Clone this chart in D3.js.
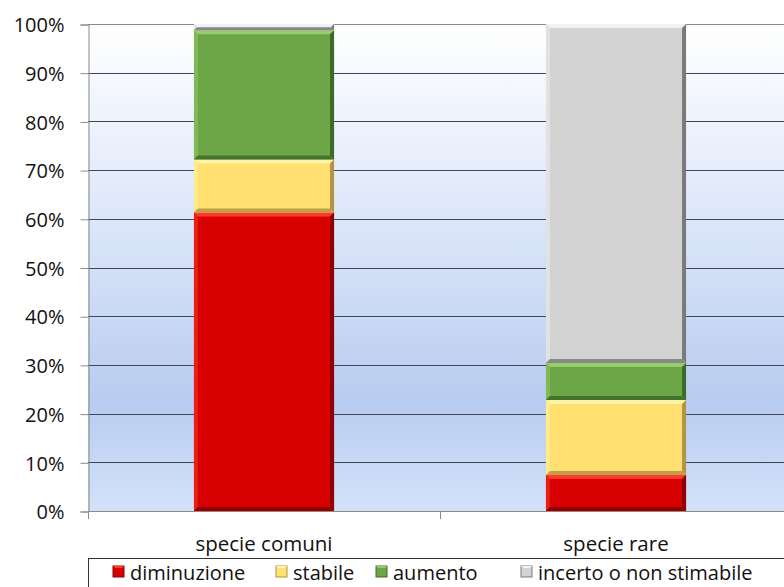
<!DOCTYPE html>
<html>
<head>
<meta charset="utf-8">
<script src="https://cdn.jsdelivr.net/npm/d3@7"></script>
<style>
  html, body { margin: 0; padding: 0; background: #fff; }
  svg text { font-family: "Open Sans", "Noto Sans", sans-serif; fill: #111; }
</style>
</head>
<body>
<svg id="chart" width="784" height="587"></svg>
<script>
// Categories and stacked shares (percent)
const categories = ["specie comuni", "specie rare"];
const seriesNames = ["diminuzione", "stabile", "aumento", "incerto o non stimabile"];
const diminuzione = [61.3, 7.4];
const stabile = [10.9, 15.4];
const aumento = [26.5, 7.6];
const incerto = [1.3, 69.6];
const yTicks = [0, 10, 20, 30, 40, 50, 60, 70, 80, 90, 100];

// Fill, highlight and shade for each series
const palette = [
  { base: "#d60000", light: "#ff3a2a", dark: "#8c0000" },
  { base: "#ffe070", light: "#fff3a8", dark: "#b39443" },
  { base: "#6ca646", light: "#95cc6c", dark: "#3d6a27" },
  { base: "#d3d3d3", light: "#f2f2f2", dark: "#7a7a7a" }
];

const rows = categories.map((c, i) => ({
  cat: c,
  diminuzione: diminuzione[i],
  stabile: stabile[i],
  aumento: aumento[i],
  "incerto o non stimabile": incerto[i]
}));

const svg = d3.select("#chart");
const plotL = 88, plotR = 792, plotT = 24, plotB = 511;

const x = d3.scaleBand().domain(categories).range([plotL, plotR])
  .paddingInner(0.602).paddingOuter(0.301);
const y = d3.scaleLinear().domain([0, 100]).range([plotB, plotT]);

// Plot background gradient
const defs = svg.append("defs");
const bg = defs.append("linearGradient").attr("id", "bg")
  .attr("x1", 0).attr("y1", 0).attr("x2", 0).attr("y2", 1);
bg.append("stop").attr("offset", "0%").attr("stop-color", "#ffffff");
bg.append("stop").attr("offset", "35%").attr("stop-color", "#e1eafa");
bg.append("stop").attr("offset", "78%").attr("stop-color", "#b8ccf0");
bg.append("stop").attr("offset", "100%").attr("stop-color", "#d3e2f9");

svg.append("rect").attr("x", plotL).attr("y", plotT)
  .attr("width", plotR - plotL).attr("height", plotB - plotT)
  .attr("fill", "url(#bg)");

// Horizontal gridlines
svg.append("g").selectAll("line").data(yTicks.filter(d => d > 0)).join("line")
  .attr("x1", plotL).attr("x2", plotR)
  .attr("y1", d => Math.round(y(d)) + 0.5).attr("y2", d => Math.round(y(d)) + 0.5)
  .attr("stroke", d => d === 100 ? "#8a8a8a" : "#3f4757").attr("stroke-width", 1);

// Y axis
const yAxis = d3.axisLeft(y).tickValues(yTicks).tickFormat(d => d + "%")
  .tickSize(8).tickPadding(16);
const gy = svg.append("g").attr("transform", `translate(${plotL + 0.5},0.5)`).call(yAxis);
gy.select(".domain").attr("stroke", "#8a8a8a");
gy.selectAll(".tick line").attr("stroke", "#8a8a8a");
gy.selectAll(".tick text").attr("font-size", 20).attr("fill", "#111").attr("dy", "0.36em");

// Stack and bars
const stack = d3.stack().keys(seriesNames);
const layers = stack(rows);

const bw = x.bandwidth();
const bev = 4;

layers.forEach((layer, si) => {
  const col = palette[si];
  const g = svg.append("g");
  layer.forEach(d => {
    const x0 = x(d.data.cat), x1 = x0 + bw;
    const y0 = y(d[1]), y1 = y(d[0]);
    const h = y1 - y0;
    if (h <= 0) return;
    const b = Math.min(bev, h / 2);
    g.append("rect").attr("x", x0).attr("y", y0).attr("width", bw).attr("height", h)
      .attr("fill", col.base);
    // top bevel
    g.append("polygon").attr("points",
      [[x0, y0], [x1, y0], [x1 - b, y0 + b], [x0 + b, y0 + b]].join(" "))
      .attr("fill", col.light);
    // left bevel
    g.append("polygon").attr("points",
      [[x0, y0], [x0 + b, y0 + b], [x0 + b, y1 - b], [x0, y1]].join(" "))
      .attr("fill", col.light).attr("opacity", 0.5);
    // right bevel
    g.append("polygon").attr("points",
      [[x1, y0], [x1, y1], [x1 - b, y1 - b], [x1 - b, y0 + b]].join(" "))
      .attr("fill", col.dark);
    // bottom bevel
    g.append("polygon").attr("points",
      [[x0, y1], [x1, y1], [x1 - b, y1 - b], [x0 + b, y1 - b]].join(" "))
      .attr("fill", col.dark).attr("opacity", 0.85);
  });
});

// X axis baseline and ticks
svg.append("line").attr("x1", plotL).attr("x2", plotR)
  .attr("y1", plotB + 0.5).attr("y2", plotB + 0.5).attr("stroke", "#8a8a8a");
const boundaries = [plotL, (x(categories[0]) + bw + x(categories[1])) / 2, plotR];
svg.append("g").selectAll("line").data(boundaries).join("line")
  .attr("x1", d => Math.round(d) + 0.5).attr("x2", d => Math.round(d) + 0.5)
  .attr("y1", plotB).attr("y2", plotB + 8).attr("stroke", "#8a8a8a");

svg.append("g").selectAll("text").data(categories).join("text")
  .attr("x", d => x(d) + bw / 2).attr("y", 551)
  .attr("text-anchor", "middle").attr("font-size", 20.5).text(d => d);

// Legend
const legend = svg.append("g");
legend.append("rect").attr("x", plotL + 0.5).attr("y", 558.5)
  .attr("width", 720).attr("height", 40)
  .attr("fill", "#fff").attr("stroke", "#333");
const legendX = [113, 276, 376, 521];
seriesNames.forEach((name, i) => {
  const col = palette[i];
  const lx = legendX[i], ly = 566;
  const s = 11;
  legend.append("rect").attr("x", lx).attr("y", ly).attr("width", s).attr("height", s)
    .attr("fill", col.base).attr("stroke", col.dark).attr("stroke-width", 1);
  legend.append("polygon").attr("points",
    [[lx, ly], [lx + s, ly], [lx + s - 2, ly + 2], [lx + 2, ly + 2]].join(" "))
    .attr("fill", col.light);
  legend.append("text").attr("x", lx + 17).attr("y", 580)
    .attr("font-size", 20).text(name);
});
</script>
</body>
</html>
